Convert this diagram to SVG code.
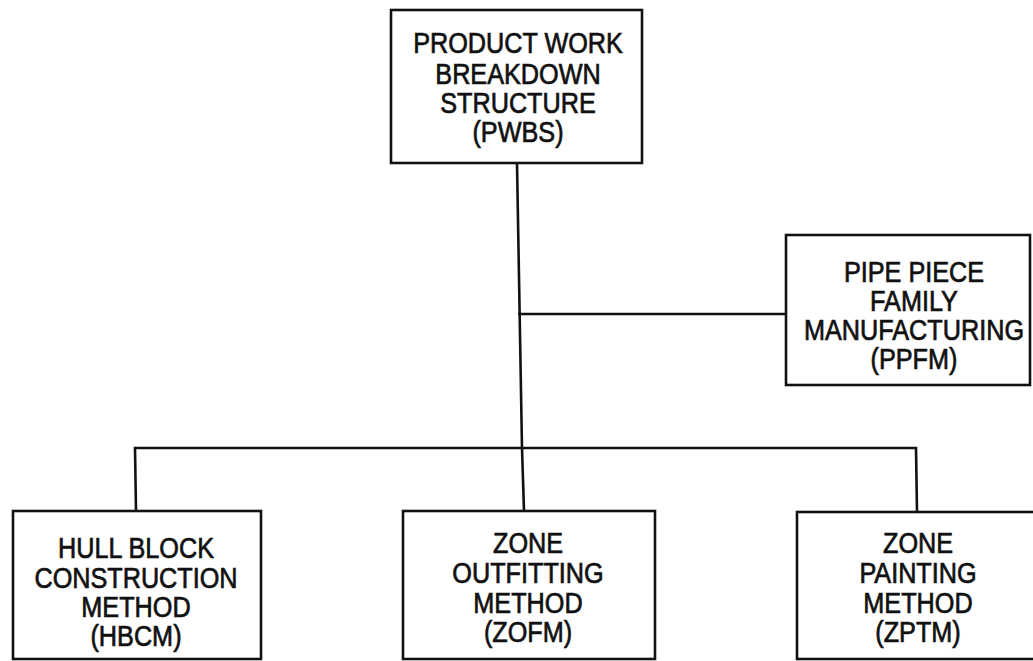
<svg xmlns="http://www.w3.org/2000/svg" width="1033" height="661" viewBox="0 0 1033 661">
<style>
.box{fill:#fff;stroke:#111;stroke-width:2.6}
.ln{fill:none;stroke:#111;stroke-width:2.6}
text{font-family:"Liberation Sans",Arial,sans-serif;font-size:29px;fill:#111;stroke:#111;stroke-width:0.7;text-anchor:middle}
</style>
<rect width="1033" height="661" fill="#fff"/>
<g id="connectors">
<line class="ln" x1="517" y1="163" x2="522" y2="448"/>
<line class="ln" x1="518" y1="314" x2="786" y2="314"/>
<polyline class="ln" points="136,511 135,448 916,448 917,512"/>
<line class="ln" x1="522" y1="448" x2="524" y2="511"/>
</g>
<g id="pwbs">
<rect class="box" x="391" y="10" width="251" height="153"/>
<g transform="translate(518,0) scale(0.87,1)">
<text x="0" y="53">PRODUCT WORK</text>
<text x="0" y="84">BREAKDOWN</text>
<text x="0" y="113">STRUCTURE</text>
<text x="0" y="142">(PWBS)</text>
</g>
</g>
<g id="ppfm">
<rect class="box" x="786" y="235" width="244" height="150"/>
<g transform="translate(914,0) scale(0.87,1)">
<text x="0" y="282">PIPE PIECE</text>
<text x="0" y="311">FAMILY</text>
<text x="0" y="340">MANUFACTURING</text>
<text x="0" y="369">(PPFM)</text>
</g>
</g>
<g id="hbcm">
<rect class="box" x="13" y="511" width="248" height="148"/>
<g transform="translate(136,0) scale(0.87,1)">
<text x="0" y="558">HULL BLOCK</text>
<text x="0" y="588">CONSTRUCTION</text>
<text x="0" y="617">METHOD</text>
<text x="0" y="646">(HBCM)</text>
</g>
</g>
<g id="zofm">
<rect class="box" x="403" y="511" width="252" height="148"/>
<g transform="translate(528,0) scale(0.87,1)">
<text x="0" y="553">ZONE</text>
<text x="0" y="583">OUTFITTING</text>
<text x="0" y="613">METHOD</text>
<text x="0" y="642">(ZOFM)</text>
</g>
</g>
<g id="zptm">
<rect class="box" x="797" y="512" width="250" height="147"/>
<g transform="translate(918,0) scale(0.87,1)">
<text x="0" y="553">ZONE</text>
<text x="0" y="583">PAINTING</text>
<text x="0" y="613">METHOD</text>
<text x="0" y="642">(ZPTM)</text>
</g>
</g>
</svg>
